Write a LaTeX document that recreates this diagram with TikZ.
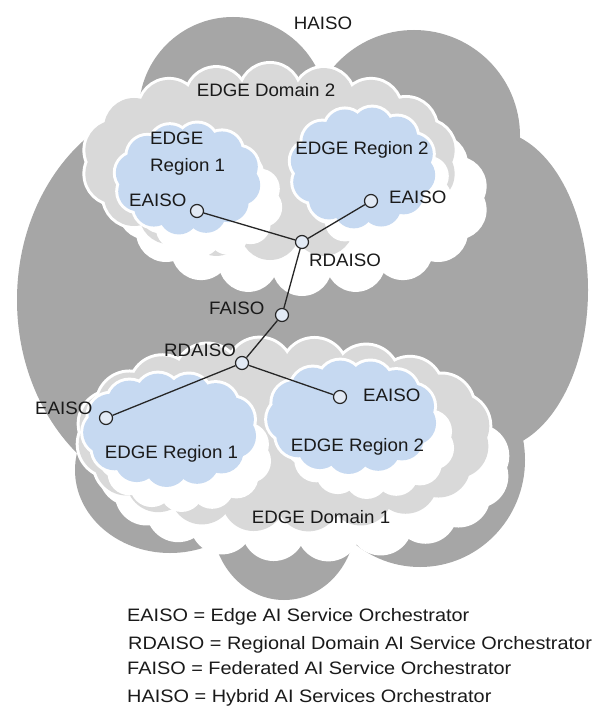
\documentclass[tikz,border=0pt]{standalone}
\usepackage{fontspec}
\setmainfont{Liberation Sans}[FakeStretch=1.04]
\newfontfamily\legfont{Liberation Sans}[FakeStretch=1.105]
\definecolor{dkg}{HTML}{A6A6A6}
\definecolor{ltg}{HTML}{D9D9D9}
\definecolor{blu}{HTML}{C6D9F1}
\definecolor{nfill}{HTML}{E2EAF5}
\definecolor{txt}{HTML}{1A1A1A}
% #1 options, #2 cx, #3 cy, #4 rx, #5 ry, #6 number of bumps, #7 bump radius
\newcommand{\cloudbase}[7]{%
  \path[#1] (#2,#3) ellipse [x radius=#4, y radius=#5];
  \foreach \k in {1,...,#6}{%
    \path[#1] ({#2+#4*cos(360*\k/#6+10)},{#3+#5*sin(360*\k/#6+10)}) circle [radius=#7];}}
% #1 colour, then as above
\newcommand{\mycloud}[7]{%
  \cloudbase{draw=white,line width=6pt}{#2}{#3}{#4}{#5}{#6}{#7}%
  \cloudbase{fill=#1}{#2}{#3}{#4}{#5}{#6}{#7}}
\tikzset{
  lbl/.style={font=\fontsize{18}{27}\selectfont, text=txt, inner sep=0pt},
  leg/.style={font=\legfont\fontsize{18}{27}\selectfont, text=txt, inner sep=0pt, anchor=base west},
  orch/.style={circle, draw=black!85, line width=1.2pt, fill=nfill, minimum size=13pt, inner sep=0pt},
  link/.style={draw=black!85, line width=1.3pt},
  dark/.style={fill=dkg}
}
\begin{document}
\begin{tikzpicture}[x=1pt,y=-1pt]
\useasboundingbox (0,0) rectangle (609,711);
\fill[white] (0,0) rectangle (609,711);
% ---- big dark cloud (HAISO)
\fill[dark] (233,111) circle [radius=94];
\fill[dark] (414,136) circle [radius=106];
\fill[dark] (490,290) ellipse [x radius=98, y radius=160];
\fill[dark] (185,300) ellipse [x radius=168, y radius=200];
\fill[dark] (170,470) ellipse [x radius=95, y radius=83];
\fill[dark] (284,520) ellipse [x radius=72, y radius=80];
\fill[dark] (420,460) ellipse [x radius=105, y radius=107];
\fill[dark] (300,330) ellipse [x radius=200, y radius=200];
% ---- EDGE Domain 2
\cloudbase{fill=white}{302}{198}{157}{68}{18}{30}
\mycloud{ltg}{270}{162}{157}{68}{18}{30}
\cloudbase{fill=white}{210}{201}{53}{36}{12}{20}
\cloudbase{fill=white}{379}{190}{53}{41}{12}{20}
\mycloud{blu}{188}{179}{53}{36}{12}{20}
\mycloud{blu}{363}{168}{53}{41}{12}{20}
% ---- EDGE Domain 1
\cloudbase{fill=white}{304}{465}{175}{65}{20}{32}
\mycloud{ltg}{284}{435}{175}{65}{20}{32}
\cloudbase{fill=white}{185}{455}{65}{35}{13}{22}
\cloudbase{fill=white}{370}{442}{63}{35}{13}{22}
\mycloud{blu}{170}{430}{65}{35}{13}{22}
\mycloud{blu}{352}{417}{63}{35}{13}{22}
% ---- orchestrator nodes
\node[orch] (e21) at (197,211) {};
\node[orch] (e22) at (371,201) {};
\node[orch] (rd2) at (302,242) {};
\node[orch] (fa)  at (282,315) {};
\node[orch] (rd1) at (242,363) {};
\node[orch] (e11) at (106,418) {};
\node[orch] (e12) at (340,397) {};
\draw[link] (e21) -- (rd2);
\draw[link] (e22) -- (rd2);
\draw[link] (rd2) -- (fa);
\draw[link] (fa) -- (rd1);
\draw[link] (rd1) -- (e11);
\draw[link] (rd1) -- (e12);
% ---- labels
\node[lbl, anchor=base] (thaiso) at (323,29.5) {HAISO};
\node[lbl, anchor=base] (tdom2) at (266,96.5) {EDGE Domain 2};
\node[lbl, anchor=north west, align=left] (treg21) at (150,131.5) {EDGE\\Region 1};
\node[lbl, anchor=base] (treg22) at (362,154.5) {EDGE Region 2};
\node[lbl, anchor=base west] (te21) at (129,206.5) {EAISO};
\node[lbl, anchor=base west] (te22) at (389,203.5) {EAISO};
\node[lbl, anchor=base west] (trd2) at (309,266.5) {RDAISO};
\node[lbl, anchor=base west] (tfa) at (209,314.5) {FAISO};
\node[lbl, anchor=base west] (trd1) at (164,356.5) {RDAISO};
\node[lbl, anchor=base west] (te11) at (35,414.5) {EAISO};
\node[lbl, anchor=base west] (te12) at (363,401.5) {EAISO};
\node[lbl, anchor=base] (treg11) at (171.5,458.5) {EDGE Region 1};
\node[lbl, anchor=base] (treg12) at (357.5,451.5) {EDGE Region 2};
\node[lbl, anchor=base] (tdom1) at (321,523.5) {EDGE Domain 1};
% ---- legend
\node[leg] (leg1) at (127,621.5) {EAISO = Edge AI Service Orchestrator};
\node[leg] (leg2) at (128,649.5) {RDAISO = Regional Domain AI Service Orchestrator};
\node[leg] (leg3) at (127,674.5) {FAISO = Federated AI Service Orchestrator};
\node[leg] (leg4) at (127,702.5) {HAISO = Hybrid AI Services Orchestrator};
\end{tikzpicture}
\end{document}
